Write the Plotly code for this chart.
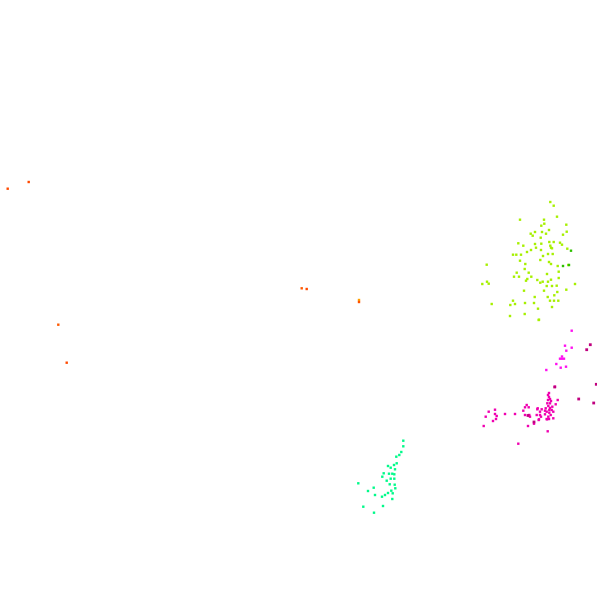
import plotly.graph_objects as go

# Orange-red outliers
orange_x = [28.7, 7.7, 301.7, 306.7, 359.0, 359.0, 58.3, 66.7]
orange_y = [182.0, 188.7, 288.3, 289.0, 300.0, 302.0, 324.7, 362.7]
orange_c = ["#ff4a00", "#ff4a00", "#ff5a00", "#ff4a00", "#ffa000", "#ff5000", "#ff5a00", "#ff4a00"]

# Yellow-green cluster
lime_x = [550.3, 553.7, 520.0, 557.0, 544.0, 544.3, 541.3, 566.3, 549.0, 535.0, 542.0, 530.7, 546.0,
          566.7, 563.0, 532.7, 540.7, 518.3, 523.3, 535.0, 541.3, 549.3, 553.7, 560.0, 550.3, 562.0,
          536.0, 551.0, 552.0, 531.0, 541.0, 567.3, 527.0, 548.0, 552.7, 513.0, 516.3, 521.0,
          543.0, 520.0, 540.3, 549.0, 551.0, 525.3, 486.7, 557.7, 568.3, 524.7, 558.7, 516.7,
          528.7, 547.0, 514.0, 519.0, 531.3, 551.0, 558.7, 527.3, 526.0, 537.3, 542.7, 540.3, 548.0,
          487.0, 488.7, 482.3, 575.0, 546.7, 552.0, 556.7, 524.0, 544.0, 566.3, 557.3, 554.3, 534.7,
          547.7, 513.0, 550.0, 554.0, 558.3, 525.0, 534.0, 491.7, 510.3, 515.0, 552.0, 538.0, 524.7,
          510.0, 539.0, 538.7]
lime_y = [202.0, 205.7, 219.7, 216.7, 219.7, 223.7, 225.7, 224.7, 230.0, 232.0, 232.0, 233.7, 233.7,
          231.7, 234.7, 235.7, 237.7, 243.3, 245.7, 244.0, 243.7, 242.0, 242.0, 242.7, 245.7, 244.7,
          247.7, 247.7, 248.3, 250.0, 250.0, 248.7, 252.0, 254.0, 254.0, 254.7, 254.7, 254.7,
          256.0, 260.7, 260.0, 262.0, 264.0, 264.0, 264.7, 266.0, 265.0, 269.0, 271.7, 272.7,
          272.7, 274.0, 276.7, 276.7, 276.7, 279.7, 278.0, 279.0, 280.7, 280.0, 281.7, 282.7, 281.7,
          281.7, 283.7, 284.0, 284.0, 286.0, 286.0, 285.7, 290.7, 290.7, 289.7, 292.0, 295.3, 297.0,
          297.0, 300.7, 300.7, 300.7, 300.7, 303.0, 303.0, 304.0, 305.0, 304.0, 307.0, 308.7, 314.0,
          316.0, 319.7, 320.0]

# Darker green points
green_x = [571.0, 563.0, 569.0]
green_y = [250.7, 266.0, 265.0]

# Spring-green cluster
teal_x = [403.3, 403.3, 401.3, 399.3, 396.3, 396.7, 394.0, 388.0, 390.7, 395.0, 383.7, 389.0, 392.3,
          394.3, 382.3, 390.7, 394.3, 386.7, 389.7, 394.7, 358.3, 373.7, 395.3, 391.3, 388.0, 392.7,
          368.0, 385.0, 375.0, 382.0, 392.3, 383.0, 363.3, 374.0]
teal_y = [440.7, 446.3, 452.0, 455.0, 456.7, 463.3, 465.0, 466.0, 467.7, 469.3, 473.3, 473.7, 473.7,
          474.3, 476.7, 478.7, 478.7, 480.7, 484.3, 484.7, 483.3, 487.7, 488.3, 490.7, 493.0, 493.3,
          491.0, 495.0, 495.0, 496.7, 499.0, 506.0, 506.7, 512.7]

# Bright magenta points
magenta_x = [571.7, 565.0, 571.7, 566.3, 560.0, 562.0, 564.0, 562.0, 556.3, 560.7, 566.0, 546.3]
magenta_y = [330.7, 345.7, 347.7, 350.7, 358.7, 358.7, 358.7, 356.5, 364.0, 367.7, 366.7, 370.0]

# Deep pink cluster
pink_x = [555.0, 548.0, 549.0, 550.0, 548.0, 551.0, 547.3, 550.0, 555.7, 548.3, 552.3, 537.7, 541.7,
          545.7, 549.3, 551.7, 540.0, 546.7, 549.3, 553.3, 545.0, 550.7, 548.3, 541.0, 546.7, 549.0,
          553.3, 539.0, 557.7, 526.7, 525.0, 528.7, 523.3, 537.3, 545.0, 515.0, 525.0, 529.3, 530.0,
          536.7, 540.0, 547.0, 538.7, 534.0, 528.0, 547.7, 518.3, 495.0, 488.7, 495.0, 485.7, 496.7,
          496.0, 493.0, 505.0, 483.7, 549.0, 550.0]
pink_y = [386.7, 395.0, 397.0, 399.0, 400.0, 401.0, 403.3, 403.3, 404.3, 406.0, 406.7, 408.3, 409.3,
          408.3, 410.0, 410.0, 411.7, 411.7, 412.7, 411.7, 414.3, 415.0, 416.7, 416.7, 419.0, 419.0,
          418.3, 419.3, 400.0, 405.0, 407.3, 407.3, 410.7, 409.3, 410.7, 414.0, 415.0, 415.0, 416.7,
          415.0, 415.0, 419.3, 420.0, 423.7, 426.0, 431.3, 443.7, 409.7, 411.7, 414.0, 416.7, 416.0,
          419.0, 421.0, 414.0, 426.0, 393.0, 408.0]

# Dark magenta points
dark_x = [590.3, 586.7, 554.7, 596.3, 578.7, 593.7, 528.0, 534.0]
dark_y = [344.7, 349.7, 387.0, 384.3, 399.0, 403.0, 415.5, 422.0]

fig = go.Figure()


def add(xs, ys, color, size=2.4):
    fig.add_trace(go.Scatter(x=xs, y=ys, mode="markers", cliponaxis=False,
                             marker=dict(color=color, size=size, symbol="square", line=dict(width=0)),
                             hoverinfo="skip", showlegend=False))


add(orange_x, orange_y, orange_c)
add(lime_x, lime_y, "#a6f000")
add(green_x, green_y, "#2ec000")
add(teal_x, teal_y, "#00fa8a")
add(magenta_x, magenta_y, "#ff10f0")
add(pink_x, pink_y, "#f000b0")
add(dark_x, dark_y, "#c0007f", 2.8)

fig.update_layout(
    width=597, height=589,
    margin=dict(l=0, r=0, t=0, b=0),
    paper_bgcolor="white", plot_bgcolor="white",
    xaxis=dict(range=[0, 597], visible=False, showgrid=False, zeroline=False),
    yaxis=dict(range=[589, 0], visible=False, showgrid=False, zeroline=False),
)

fig.write_html("out.html",
               config={"displayModeBar": False, "staticPlot": True},
               post_script="document.body.style.margin='0';document.body.style.overflow='hidden';")
